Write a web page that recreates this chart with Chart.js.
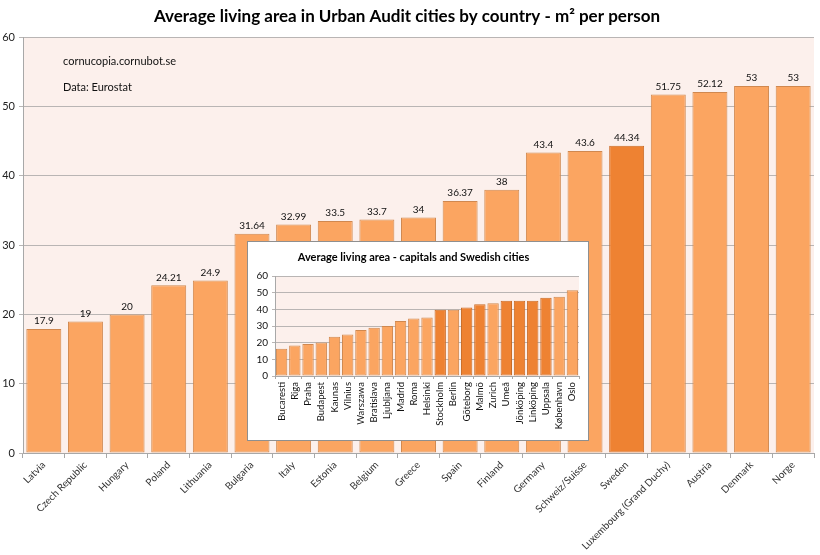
<!DOCTYPE html>
<html><head><meta charset="utf-8">
<script src="https://cdn.jsdelivr.net/npm/chart.js@4"></script>
<style>
html,body{margin:0;padding:0;background:#fff;}
#wrap{position:relative;width:820px;height:555px;overflow:hidden;}
#main{position:absolute;left:0;top:0;}
#insetBox{position:absolute;left:247px;top:241px;width:340px;height:198px;border:1px solid #8f8f8f;background:#fff;}
#inset{display:block;}
</style></head><body>
<div id="wrap">
<canvas id="main" width="820" height="555"></canvas>
<div id="insetBox"><canvas id="inset" width="340" height="198"></canvas></div>
</div>
<script>
// ---- data ----
const countries = ['Latvia','Czech Republic','Hungary','Poland','Lithuania','Bulgaria','Italy','Estonia','Belgium','Greece','Spain','Finland','Germany','Schweiz/Suisse','Sweden','Luxembourg (Grand Duchy)','Austria','Denmark','Norge'];
const countryValues = [17.9,19,20,24.21,24.9,31.64,32.99,33.5,33.7,34,36.37,38,43.4,43.6,44.34,51.75,52.12,53,53];
const highlightCountries = ['Sweden'];

const cities = ['Bucaresti','Riga','Praha','Budapest','Kaunas','Vilnius','Warszawa','Bratislava','Ljubljana','Madrid','Roma','Helsinki','Stockholm','Berlin','Göteborg','Malmö','Zurich','Umeå','Jönköping','Linköping','Uppsala','København','Oslo'];
const cityValues = [16.4,18.4,19.2,20.2,23.6,25,27.6,29,30,33,34.6,35.2,39.8,39.8,41.2,43.2,43.8,45.2,45.2,45.2,47,47.6,51.6];
const swedishCities = ['Stockholm','Göteborg','Malmö','Umeå','Jönköping','Linköping','Uppsala'];

const yTicks = [0,10,20,30,40,50,60];

const mainTitle = 'Average living area in Urban Audit cities by country - m² per person';
const insetTitle = 'Average living area - capitals and Swedish cities';
const notes = ['cornucopia.cornubot.se','Data: Eurostat'];

// ---- styles ----
const FONT = 'Lato, "Open Sans", sans-serif';
const LIGHT = '#FBA561', LIGHT_B = '#D0884F';
const DARK = '#EE8232', DARK_B = '#C96A25';
const PLOT_BG = '#FCF0EC';
const GRID = '#B9B5B4';

const plotBg = {
  id:'plotBg',
  beforeDraw(chart, args, opts){
    const {ctx, chartArea:a} = chart;
    ctx.save(); ctx.fillStyle = opts.color || PLOT_BG;
    ctx.fillRect(a.left, a.top, a.right-a.left, a.bottom-a.top);
    ctx.restore();
  }
};
const valueLabels = {
  id:'valueLabels',
  afterDatasetsDraw(chart, args, opts){
    if(!opts.show) return;
    const {ctx} = chart;
    const meta = chart.getDatasetMeta(0);
    const data = chart.data.datasets[0].data;
    ctx.save();
    ctx.font = '10px ' + FONT; ctx.fillStyle = '#111';
    ctx.textAlign = 'center'; ctx.textBaseline = 'bottom';
    meta.data.forEach((el,i)=>{ ctx.fillText(String(data[i]), el.x, el.y-3); });
    ctx.restore();
  }
};
const notesPlugin = {
  id:'notes',
  afterDraw(chart, args, opts){
    if(!opts.lines) return;
    const {ctx, chartArea:a} = chart;
    ctx.save();
    ctx.font = '11px ' + FONT; ctx.fillStyle = '#111';
    ctx.textAlign = 'left'; ctx.textBaseline = 'middle';
    opts.lines.forEach((t,i)=> ctx.fillText(t, a.left+40, a.top+24+i*26));
    ctx.restore();
  }
};

new Chart(document.getElementById('main'), {
  type:'bar',
  data:{ labels:countries, datasets:[{
    data:countryValues,
    backgroundColor: countries.map(c=> highlightCountries.includes(c)?DARK:LIGHT),
    borderColor: countries.map(c=> highlightCountries.includes(c)?DARK_B:LIGHT_B),
    borderWidth:1, borderSkipped:false,
    categoryPercentage:1, barPercentage:0.84
  }]},
  options:{
    responsive:false, animation:false, devicePixelRatio:1,
    layout:{padding:{left:0,right:6,top:0,bottom:0}},
    plugins:{
      legend:{display:false}, tooltip:{enabled:false},
      title:{display:true, text:mainTitle, color:'#000', font:{family:FONT,size:17,weight:'bold'}, padding:{top:6,bottom:11}},
      plotBg:{color:PLOT_BG}, valueLabels:{show:true}, notes:{lines:notes}
    },
    scales:{
      x:{
        grid:{display:true, drawOnChartArea:false, drawTicks:true, tickLength:5, color:'#A8A8A8', offset:true},
        border:{display:true, color:'#A8A8A8'},
        ticks:{autoSkip:false, maxRotation:45, minRotation:45, font:{family:FONT,size:10}, color:'#333', padding:1},
        afterFit(s){ s.height = 102; }
      },
      y:{
        min:0, max:60,
        afterBuildTicks(s){ s.ticks = yTicks.map(v=>({value:v})); },
        ticks:{font:{family:FONT,size:11}, color:'#222', padding:4},
        grid:{color:GRID, tickLength:4, drawTicks:true},
        border:{display:true, color:'#A8A8A8'},
        afterFit(s){ s.width = 23; }
      }
    }
  },
  plugins:[plotBg, valueLabels, notesPlugin]
});

new Chart(document.getElementById('inset'), {
  type:'bar',
  data:{ labels:cities, datasets:[{
    data:cityValues,
    backgroundColor: cities.map(c=> swedishCities.includes(c)?DARK:LIGHT),
    borderColor: cities.map(c=> swedishCities.includes(c)?DARK_B:LIGHT_B),
    borderWidth:1, borderSkipped:false,
    categoryPercentage:1, barPercentage:0.86
  }]},
  options:{
    responsive:false, animation:false, devicePixelRatio:1,
    layout:{padding:{left:0,right:9,top:0,bottom:0}},
    plugins:{
      legend:{display:false}, tooltip:{enabled:false},
      title:{display:true, text:insetTitle, color:'#000', font:{family:FONT,size:11,weight:'bold'}, padding:{top:9,bottom:12}},
      plotBg:{color:PLOT_BG}, valueLabels:{show:false}, notes:{}
    },
    scales:{
      x:{
        grid:{display:true, drawOnChartArea:false, drawTicks:true, tickLength:3, color:'#A8A8A8', offset:true},
        border:{display:true, color:'#A8A8A8'},
        ticks:{autoSkip:false, maxRotation:90, minRotation:90, font:{family:FONT,size:9.5}, color:'#111', padding:3},
        afterFit(s){ s.height = 64; }
      },
      y:{
        min:0, max:60,
        afterBuildTicks(s){ s.ticks = yTicks.map(v=>({value:v})); },
        ticks:{font:{family:FONT,size:10}, color:'#111', padding:4},
        grid:{color:GRID, tickLength:3, drawTicks:true},
        border:{display:true, color:'#A8A8A8'},
        afterFit(s){ s.width = 27; }
      }
    }
  },
  plugins:[plotBg, valueLabels, notesPlugin]
});
</script>
</body></html>
